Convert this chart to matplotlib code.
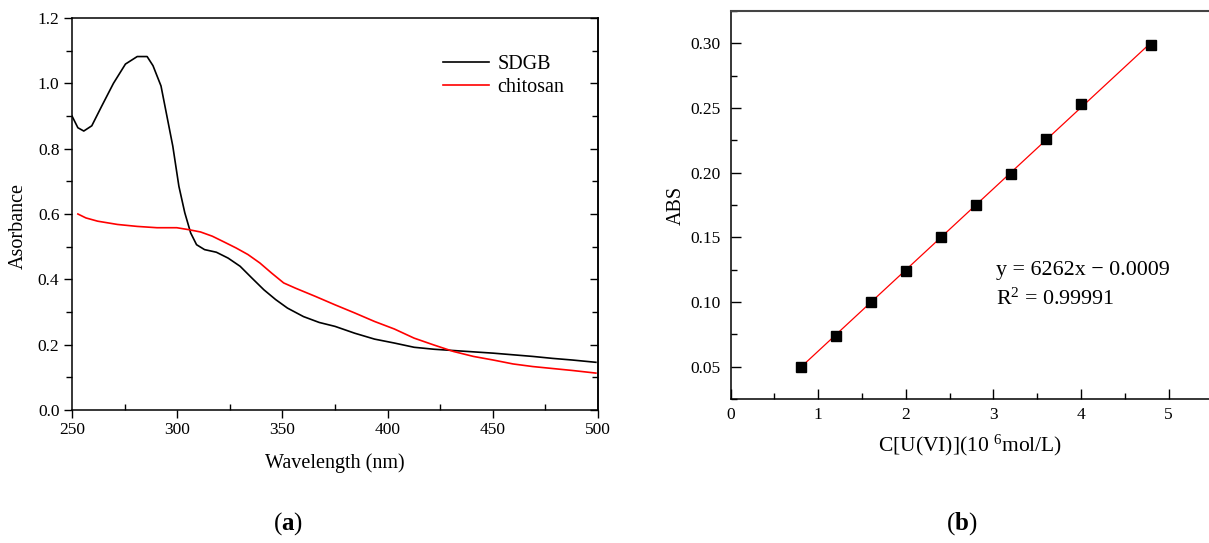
import matplotlib
matplotlib.use("Agg")
import matplotlib.pyplot as plt
import numpy as np
from matplotlib.ticker import MultipleLocator, FormatStrFormatter, NullFormatter

plt.rcParams['font.family'] = ['Liberation Serif', 'DejaVu Serif']
plt.rcParams['mathtext.fontset'] = 'custom'
plt.rcParams['mathtext.rm'] = 'Liberation Serif'
plt.rcParams['mathtext.it'] = 'Liberation Serif:italic'
plt.rcParams['mathtext.bf'] = 'Liberation Serif:bold'

# Panel (a) data
sdgb_wl = [250, 252.8, 255.6, 259.4, 264.1, 269.7, 275.4, 281, 285.7, 288.5, 292.3, 295.1,
           297.9, 300.8, 303.6, 306.4, 309.2, 313, 318.6, 324.2, 329.9, 335.5, 341.2, 346.8,
           352.4, 360, 367.5, 375, 384.4, 393.8, 403.2, 412.6, 422, 431.4, 440.8, 450.2,
           459.6, 469, 478.4, 487.8, 499]
sdgb_abs = [0.90, 0.864, 0.854, 0.87, 0.93, 1.00, 1.059, 1.082, 1.082, 1.054, 0.992, 0.90,
            0.808, 0.685, 0.604, 0.542, 0.506, 0.491, 0.483, 0.465, 0.44, 0.404, 0.368, 0.338,
            0.312, 0.286, 0.268, 0.256, 0.235, 0.217, 0.205, 0.192, 0.186, 0.182, 0.178, 0.174,
            0.169, 0.164, 0.158, 0.153, 0.146]
chit_wl = [252.8, 256.6, 262.2, 271.6, 281, 290.4, 299.8, 305.5, 311.1, 316.7, 322.4, 328,
           333.6, 339.3, 344.9, 350.6, 356.2, 365.6, 375, 384.4, 393.8, 403.2, 412.6, 422,
           431.4, 440.8, 450.2, 459.6, 469, 478.4, 487.8, 499]
chit_abs = [0.600, 0.588, 0.578, 0.568, 0.562, 0.558, 0.558, 0.552, 0.545, 0.532, 0.514, 0.496,
            0.476, 0.45, 0.419, 0.389, 0.373, 0.348, 0.322, 0.297, 0.271, 0.248, 0.22, 0.199,
            0.179, 0.164, 0.153, 0.141, 0.133, 0.127, 0.121, 0.113]

# Panel (b) data
conc = [0.8, 1.2, 1.6, 2.0, 2.4, 2.8, 3.2, 3.6, 4.0, 4.8]
absb = [0.050, 0.074, 0.100, 0.124, 0.150, 0.175, 0.199, 0.226, 0.253, 0.299]

fig = plt.figure(figsize=(12.09, 5.43), dpi=100)

# ---- panel a ----
ax1 = fig.add_axes([72 / 1209, 1 - 410 / 543, 526 / 1209, 392 / 543])
ax1.plot(sdgb_wl, sdgb_abs, color='black', lw=1.2, label='SDGB')
ax1.plot(chit_wl, chit_abs, color='red', lw=1.2, label='chitosan')
ax1.set_xlim(250, 500)
ax1.set_ylim(0, 1.2)
ax1.xaxis.set_major_locator(MultipleLocator(50))
ax1.xaxis.set_minor_locator(MultipleLocator(25))
ax1.yaxis.set_major_locator(MultipleLocator(0.2))
ax1.yaxis.set_minor_locator(MultipleLocator(0.1))
ax1.yaxis.set_major_formatter(FormatStrFormatter('%.1f'))
ax1.tick_params(which='major', direction='out', length=6, width=1, labelsize=12.5, pad=3)
ax1.tick_params(axis='x', which='minor', direction='in', length=4, width=1)
ax1.tick_params(axis='y', which='minor', direction='out', length=4, width=1)
sec = ax1.secondary_yaxis('right')
sec.yaxis.set_major_locator(MultipleLocator(0.2))
sec.yaxis.set_minor_locator(MultipleLocator(0.1))
sec.yaxis.set_major_formatter(NullFormatter())
sec.tick_params(which='major', direction='in', length=6, width=1)
sec.tick_params(which='minor', direction='in', length=4, width=1)
sec.spines['right'].set_linewidth(1.1)
for s in ax1.spines.values():
    s.set_linewidth(1.1)
ax1.set_xlabel('Wavelength (nm)', fontsize=14.5)
ax1.xaxis.set_label_coords(0.5, -0.11)
ax1.set_ylabel('Asorbance', fontsize=14.5)
ax1.yaxis.set_label_coords(-0.084, 0.47)
leg = ax1.legend(loc='upper left', bbox_to_anchor=(0.69, 0.927), frameon=False, fontsize=14.5,
                 handlelength=2.3, handletextpad=0.4, labelspacing=0.22, borderaxespad=0)

# ---- panel b ----
ax2 = fig.add_axes([730.5 / 1209, 1 - 399.3 / 543, (1209 - 730.5) / 1209, 388.3 / 543])
slope, intercept = np.polyfit(conc, absb, 1)
xf = np.array([min(conc), max(conc)])
ax2.plot(xf, slope * xf + intercept, color='red', lw=0.9, zorder=2)
ax2.plot(conc, absb, 's', color='black', ms=6.8, zorder=3)
ax2.set_xlim(0, 5.46)
ax2.set_ylim(0.0248, 0.325)
ax2.xaxis.set_major_locator(MultipleLocator(1))
ax2.xaxis.set_minor_locator(MultipleLocator(0.5))
ax2.yaxis.set_major_locator(MultipleLocator(0.05))
ax2.yaxis.set_minor_locator(MultipleLocator(0.025))
ax2.yaxis.set_major_formatter(FormatStrFormatter('%.2f'))
ax2.tick_params(which='major', direction='in', length=7, width=1, labelsize=12.5)
ax2.tick_params(axis='y', which='major', pad=7)
ax2.tick_params(axis='x', which='major', pad=5.5)
ax2.tick_params(which='minor', direction='in', length=4.5, width=1)
ax2.spines['right'].set_visible(False)
ax2.spines['top'].set_color('#444444')
ax2.spines['top'].set_linewidth(1.5)
for k in ['left', 'bottom']:
    ax2.spines[k].set_linewidth(1.1)
ax2.set_xlabel('C[U(VI)](10 $^{6}$mol/L)', fontsize=15.5)
ax2.xaxis.set_label_coords(0.5, -0.085)
ax2.set_ylabel('ABS', fontsize=14.5)
ax2.yaxis.set_label_coords(-0.093, 0.5)
ax2.text((996 - 730.5) / 478.5, (399.3 - 270) / 388.3, 'y = 6262x \u2212 0.0009',
         transform=ax2.transAxes, fontsize=15.8, va='center')
ax2.text((996 - 730.5) / 478.5, (399.3 - 299) / 388.3, 'R$^{2}$ = 0.99991',
         transform=ax2.transAxes, fontsize=15.8, va='center')

# panel labels
fig.text(288 / 1209, 19 / 543, r'($\mathbf{a}$)', fontsize=18, ha='center', va='center')
fig.text(962 / 1209, 19 / 543, r'($\mathbf{b}$)', fontsize=18, ha='center', va='center')

fig.savefig('out.png', dpi=100)
